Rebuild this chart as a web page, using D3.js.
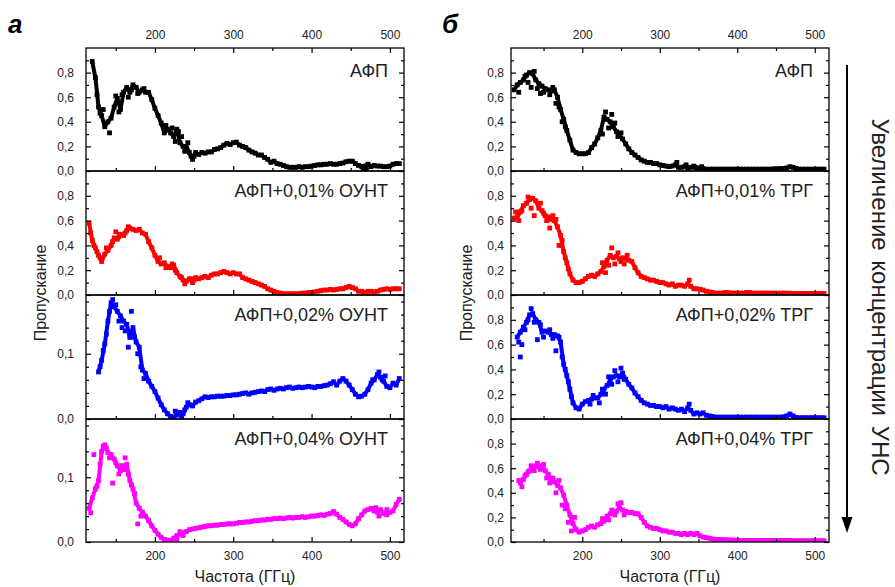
<!DOCTYPE html>
<html>
<head>
<meta charset="utf-8">
<script src="https://cdnjs.cloudflare.com/ajax/libs/d3/7.8.5/d3.min.js"></script>
<style>
  body { margin: 0; background: #fff; }
  svg { display: block; }
  text { font-family: "Liberation Sans", Arial, sans-serif; }
</style>
</head>
<body>
<script>
// frequency grid (GHz), shared by every curve
const freq = [112,116,120,124,128,132,136,140,144,148,
  152,156,160,164,168,172,176,180,184,188,
  192,196,200,204,208,212,216,220,224,228,
  232,236,240,244,248,252,256,260,264,268,
  272,276,280,284,288,292,296,300,304,308,
  312,316,320,324,328,332,336,340,344,348,
  352,356,360,364,368,372,376,380,384,388,
  392,396,400,404,408,412,416,420,424,428,
  432,436,440,444,448,452,456,460,464,468,
  472,476,480,484,488,492,496,500,504,508,
  512];

// panel а : АФП + ОУНТ
const ountAfp = [null,null,0.89,0.76,0.52,0.45,0.36,0.40,0.43,0.52,
  0.59,0.50,0.64,0.68,0.64,0.70,0.68,0.64,0.66,0.64,
  0.64,0.58,0.51,0.45,0.39,0.31,0.34,0.31,0.28,0.34,
  0.23,0.20,0.20,0.15,0.095,0.15,0.135,0.15,0.145,0.155,
  0.155,0.175,0.18,0.19,0.21,0.225,0.215,0.23,0.235,0.21,
  0.20,0.19,0.17,0.155,0.145,0.13,0.13,0.11,0.095,0.07,
  0.08,0.06,0.055,0.045,0.035,0.03,0.03,0.03,0.035,0.03,
  0.035,0.035,0.04,0.045,0.05,0.05,0.055,0.055,0.06,0.055,
  0.055,0.06,0.065,0.075,0.08,0.08,0.06,0.045,0.035,0.04,
  0.055,0.035,0.045,0.04,0.04,0.035,0.035,0.04,0.055,0.06,
  0.06];
const ount001 = [null,0.58,0.44,0.38,0.32,0.27,0.33,0.36,0.40,0.46,
  0.45,0.49,0.48,0.52,0.54,0.53,0.52,0.53,0.50,0.49,
  0.43,0.38,0.32,0.27,0.25,0.26,0.23,0.22,0.24,0.18,
  0.15,0.12,0.11,0.13,0.10,0.14,0.13,0.14,0.15,0.14,
  0.16,0.17,0.17,0.18,0.19,0.18,0.17,0.18,0.17,0.17,
  0.14,0.13,0.12,0.11,0.10,0.09,0.08,0.07,0.05,0.04,
  0.03,0.02,0.015,0.01,0.01,0.01,0.01,0.01,0.01,0.015,
  0.015,0.02,0.02,0.025,0.03,0.035,0.04,0.04,0.045,0.04,
  0.045,0.05,0.05,0.06,0.07,0.06,0.05,0.03,0.03,0.02,
  0.03,0.03,0.025,0.03,0.04,0.045,0.05,0.045,0.05,0.05,
  0.05];
const ount002 = [null,null,null,null,0.072,0.090,0.115,0.150,0.178,0.172,
  0.165,0.158,0.150,0.145,0.125,0.140,0.118,0.110,0.075,0.070,
  0.058,0.050,0.042,0.032,0.022,0.014,0.008,0.004,0.003,0.006,
  0.010,0.008,0.018,0.022,0.020,0.026,0.028,0.031,0.034,0.033,
  0.034,0.034,0.035,0.035,0.035,0.036,0.036,0.037,0.037,0.038,
  0.039,0.040,0.038,0.040,0.041,0.042,0.043,0.042,0.045,0.046,
  0.044,0.046,0.047,0.046,0.048,0.049,0.047,0.048,0.049,0.048,
  0.049,0.050,0.049,0.048,0.050,0.050,0.051,0.052,0.054,0.057,
  0.052,0.058,0.062,0.058,0.052,0.045,0.038,0.034,0.035,0.038,
  0.045,0.055,0.060,0.068,0.064,0.058,0.050,0.048,0.055,0.052,
  0.062];
const ount004 = [null,0.052,0.068,0.082,0.095,0.140,0.150,0.138,0.135,0.128,
  0.118,0.110,0.112,0.120,0.095,0.082,0.060,0.052,0.046,0.040,
  0.033,0.025,0.018,0.012,0.007,0.004,0.003,0.002,0.006,0.010,
  0.012,0.014,0.016,0.019,0.020,0.021,0.022,0.023,0.024,0.025,
  0.025,0.026,0.026,0.027,0.027,0.028,0.028,0.028,0.029,0.030,
  0.030,0.031,0.031,0.032,0.033,0.033,0.034,0.034,0.035,0.035,
  0.036,0.036,0.037,0.036,0.037,0.038,0.037,0.038,0.038,0.039,
  0.038,0.039,0.040,0.040,0.041,0.042,0.041,0.043,0.044,0.047,
  0.043,0.038,0.035,0.031,0.027,0.025,0.028,0.036,0.042,0.048,
  0.050,0.052,0.048,0.046,0.050,0.044,0.042,0.046,0.048,0.058,
  0.066];

// panel б : АФП + ТРГ
const trgAfp = [0.66,0.70,0.72,0.74,0.78,0.80,0.79,0.74,0.71,0.69,
  0.67,0.66,0.65,0.66,0.60,0.50,0.42,0.33,0.25,0.17,
  0.15,0.14,0.14,0.14,0.15,0.19,0.22,0.27,0.33,0.44,
  0.42,0.40,0.36,0.32,0.29,0.26,0.22,0.18,0.15,0.13,
  0.11,0.09,0.08,0.07,0.07,0.06,0.06,0.05,0.045,0.04,
  0.035,0.04,0.05,0.03,0.03,0.035,0.025,0.03,0.04,0.025,
  0.02,0.02,0.015,0.015,0.015,0.015,0.015,0.015,0.015,0.015,
  0.015,0.015,0.015,0.015,0.015,0.015,0.015,0.015,0.015,0.015,
  0.015,0.015,0.015,0.015,0.018,0.018,0.02,0.02,0.025,0.035,
  0.03,0.02,0.015,0.015,0.015,0.015,0.015,0.015,0.015,0.015,
  0.015];
const trg001 = [0.62,0.63,0.67,0.72,0.74,0.77,0.78,0.76,0.70,0.68,
  0.64,0.63,0.61,0.60,0.55,0.48,0.35,0.26,0.17,0.12,
  0.10,0.10,0.11,0.13,0.15,0.16,0.15,0.17,0.19,0.23,
  0.28,0.32,0.30,0.31,0.29,0.30,0.29,0.28,0.27,0.22,
  0.18,0.15,0.14,0.13,0.12,0.12,0.11,0.10,0.10,0.09,
  0.08,0.09,0.07,0.08,0.08,0.07,0.09,0.07,0.05,0.05,
  0.045,0.04,0.03,0.025,0.02,0.015,0.015,0.015,0.02,0.02,
  0.015,0.015,0.015,0.015,0.015,0.02,0.02,0.015,0.015,0.015,
  0.015,0.015,0.015,0.015,0.015,0.015,0.015,0.015,0.015,0.015,
  0.012,0.012,0.012,0.012,0.012,0.012,0.012,0.012,0.012,0.012,
  0.012];
const trg002 = [null,0.66,0.70,0.74,0.78,0.84,0.85,0.80,0.78,0.70,
  0.71,0.70,0.68,0.68,0.67,0.62,0.44,0.35,0.24,0.13,
  0.09,0.08,0.12,0.14,0.15,0.16,0.17,0.17,0.20,0.24,
  0.27,0.31,0.34,0.35,0.34,0.37,0.32,0.28,0.25,0.21,
  0.18,0.15,0.13,0.12,0.11,0.11,0.10,0.10,0.09,0.10,
  0.08,0.09,0.08,0.07,0.08,0.06,0.09,0.07,0.04,0.05,
  0.04,0.05,0.03,0.025,0.02,0.015,0.015,0.015,0.015,0.015,
  0.015,0.015,0.015,0.015,0.015,0.015,0.015,0.015,0.015,0.015,
  0.015,0.015,0.015,0.015,0.015,0.015,0.015,0.018,0.025,0.04,
  0.025,0.012,0.01,0.01,0.01,0.01,0.01,0.01,0.01,0.01,
  0.01];
const trg004 = [null,null,0.48,0.51,0.55,0.58,0.60,0.62,0.61,0.62,
  0.58,0.55,0.50,0.49,0.46,0.44,0.38,0.30,0.22,0.15,
  0.10,0.08,0.09,0.10,0.12,0.13,0.12,0.14,0.15,0.17,
  0.21,0.23,0.24,0.25,0.28,0.26,0.25,0.24,0.24,0.23,
  0.23,0.20,0.16,0.13,0.12,0.11,0.11,0.10,0.09,0.09,
  0.08,0.08,0.07,0.07,0.06,0.07,0.06,0.07,0.06,0.07,
  0.05,0.04,0.035,0.03,0.025,0.02,0.02,0.02,0.018,0.018,
  0.015,0.015,0.015,0.012,0.012,0.012,0.012,0.012,0.012,0.012,
  0.012,0.012,0.012,0.012,0.012,0.012,0.012,0.012,0.012,0.012,
  0.01,0.01,0.01,0.01,0.01,0.01,0.01,0.01,0.01,0.01,
  0.01];

// scattered points lying off the main trace, [GHz, value]
const ountAfpScatter = [[126,0.62],[130,0.47],[134,0.50],[142,0.31],[150,0.61],[154,0.48],[158,0.62],
  [166,0.60],[170,0.66],[178,0.63],[186,0.67],[214,0.37],[222,0.35],[226,0.24],[230,0.32],[234,0.28],
  [238,0.16],[242,0.23],[246,0.12],[250,0.12],[466,0.015],[470,0.02]];
const ount001Scatter = [[118,0.50],[122,0.40],[126,0.35],[130,0.30],[138,0.38],[146,0.43],[150,0.51],
  [154,0.47],[162,0.50],[166,0.55],[206,0.30],[214,0.22],[222,0.25],[226,0.20],[234,0.14],[238,0.09],
  [246,0.13],[250,0.12]];
const ount002Scatter = [[130,0.080],[134,0.105],[138,0.130],[142,0.165],[146,0.183],[150,0.175],[154,0.150],
  [158,0.140],[162,0.135],[166,0.110],[170,0.165],[174,0.125],[178,0.100],[182,0.080],[186,0.062],
  [226,0.012],[234,0.004],[238,0.014],[242,0.025],[478,0.060],[486,0.072],[490,0.060],[494,0.066]];
const ount004Scatter = [[118,0.045],[122,0.135],[126,0.086],[130,0.120],[134,0.148],[138,0.145],[142,0.130],
  [146,0.091],[150,0.122],[154,0.105],[158,0.118],[162,0.130],[166,0.105],[170,0.088],[174,0.075],
  [178,0.028],[182,0.040],[228,0.004],[232,0.016],[236,0.010],[482,0.053],[486,0.040],[496,0.050]];
const trgAfpScatter = [[118,0.64],[126,0.77],[130,0.72],[134,0.68],[138,0.81],[142,0.67],[146,0.63],
  [150,0.64],[158,0.62],[162,0.68],[166,0.55],[170,0.52],[174,0.40],[178,0.36],[226,0.30],[230,0.48],
  [234,0.35],[238,0.46],[242,0.39],[246,0.28],[250,0.31],[322,0.07],[334,0.05],[346,0.03],[354,0.035]];
const trg001Scatter = [[114,0.67],[118,0.60],[122,0.68],[130,0.79],[134,0.70],[138,0.64],[146,0.74],
  [150,0.66],[154,0.60],[158,0.54],[162,0.64],[166,0.61],[170,0.40],[174,0.44],[178,0.30],[182,0.21],
  [226,0.26],[230,0.18],[234,0.24],[238,0.38],[242,0.25],[246,0.34],[250,0.27],[254,0.25],[258,0.32],
  [338,0.12]];
const trg002Scatter = [[118,0.62],[120,0.50],[122,0.60],[126,0.72],[130,0.80],[134,0.89],[138,0.78],
  [142,0.64],[146,0.76],[150,0.66],[158,0.72],[162,0.65],[166,0.55],[170,0.66],[174,0.50],[178,0.40],
  [182,0.30],[186,0.18],[210,0.12],[214,0.19],[222,0.13],[226,0.24],[230,0.20],[234,0.34],[238,0.28],
  [242,0.39],[246,0.30],[250,0.41],[254,0.32],[338,0.12]];
const trg004Scatter = [[118,0.50],[122,0.45],[126,0.54],[130,0.57],[134,0.62],[138,0.58],[142,0.64],
  [146,0.59],[150,0.63],[154,0.52],[158,0.48],[162,0.52],[166,0.40],[170,0.50],[174,0.30],[178,0.27],
  [182,0.16],[186,0.09],[190,0.20],[226,0.19],[234,0.18],[238,0.26],[242,0.22],[246,0.31],[250,0.32],
  [254,0.22]];

const ountLabels = ['АФП', 'АФП+0,01% ОУНТ', 'АФП+0,02% ОУНТ', 'АФП+0,04% ОУНТ'];
const trgLabels = ['АФП', 'АФП+0,01% ТРГ', 'АФП+0,02% ТРГ', 'АФП+0,04% ТРГ'];
const xMajor = [200, 300, 400, 500];
const xMinor = [150, 250, 350, 450];
const yMajorFull = [0, 0.2, 0.4, 0.6, 0.8];
const yMinorFull = [0.1, 0.3, 0.5, 0.7, 0.9];
const yMajorSmall = [0, 0.1];
const yMinorSmall = [0.02, 0.04, 0.06, 0.08, 0.12, 0.14, 0.16, 0.18];

const colors = ['#000000', '#ff0000', '#0000ff', '#ff00ff'];
const rows = [48, 171, 295, 419, 542];
const fmt = d => d3.format('.1f')(d).replace('.', ',');

const columns = [
  {letter: 'а', lx: 8, x0: 86, x1: 404, dom: [112, 518], ymax: [1, 1, 0.19, 0.19], gap: 12,
   series: [ountAfp, ount001, ount002, ount004],
   scatter: [ountAfpScatter, ount001Scatter, ount002Scatter, ount004Scatter],
   labels: ountLabels, ytx: 46},
  {letter: 'б', lx: 442, x0: 511, x1: 829, dom: [108, 518.4], ymax: [1, 1, 1, 1], gap: 7,
   series: [trgAfp, trg001, trg002, trg004],
   scatter: [trgAfpScatter, trg001Scatter, trg002Scatter, trg004Scatter],
   labels: trgLabels, ytx: 472}
];

const svg = d3.select('body').append('svg')
  .attr('width', 895).attr('height', 587);

function styleAxis(g) {
  g.select('.domain').remove();
  g.selectAll('line').attr('stroke', '#000').attr('stroke-width', 1.2);
  g.selectAll('text').attr('font-size', '12px').attr('fill', '#222')
    .attr('font-family', '"Liberation Sans", Arial, sans-serif');
}

columns.forEach((col, ci) => {
  const x = d3.scaleLinear().domain(col.dom).range([col.x0, col.x1]);

  col.series.forEach((vals, i) => {
    const top = rows[i], bottom = rows[i + 1];
    const ymax = col.ymax[i];
    const y = d3.scaleLinear().domain([0, ymax]).range([bottom, top]);
    const full = ymax === 1;

    const clipId = `clip${ci}${i}`;
    svg.append('clipPath').attr('id', clipId).append('rect')
      .attr('x', col.x0).attr('y', top).attr('width', col.x1 - col.x0).attr('height', bottom - top);

    const trace = freq.map((f, k) => [f, vals[k]]);
    const layer = svg.append('g').attr('clip-path', `url(#${clipId})`);

    // dense band of the measured trace
    layer.append('path')
      .datum(trace)
      .attr('fill', 'none').attr('stroke', colors[i]).attr('stroke-width', 4)
      .attr('stroke-linejoin', 'round')
      .attr('d', d3.line().defined(d => d[1] != null).x(d => x(d[0])).y(d => y(d[1])));

    const pts = trace.filter(d => d[1] != null).concat(col.scatter[i]);
    layer.selectAll('rect').data(pts).join('rect')
      .attr('x', d => x(d[0]) - 2.4).attr('y', d => y(d[1]) - 2.4)
      .attr('width', 4.8).attr('height', 4.8)
      .attr('fill', colors[i]);

    // y axes
    svg.append('g').attr('transform', `translate(${col.x0},0)`)
      .call(d3.axisLeft(y).tickValues(full ? yMajorFull : yMajorSmall).tickSize(-5)
        .tickPadding(col.gap).tickFormat(fmt))
      .call(styleAxis);
    svg.append('g').attr('transform', `translate(${col.x0},0)`)
      .call(d3.axisLeft(y).tickValues(full ? yMinorFull : yMinorSmall).tickSize(-3).tickFormat(''))
      .call(styleAxis);
    svg.append('g').attr('transform', `translate(${col.x1},0)`)
      .call(d3.axisRight(y).tickValues(full ? yMajorFull : yMajorSmall).tickSize(-5).tickFormat(''))
      .call(styleAxis);
    svg.append('g').attr('transform', `translate(${col.x1},0)`)
      .call(d3.axisRight(y).tickValues(full ? yMinorFull : yMinorSmall).tickSize(-3).tickFormat(''))
      .call(styleAxis);

    // x ticks on the bottom edge of every panel
    const last = i === col.series.length - 1;
    svg.append('g').attr('transform', `translate(0,${bottom})`)
      .call(d3.axisBottom(x).tickValues(xMajor).tickSize(-5).tickPadding(9)
        .tickFormat(last ? d3.format('d') : ''))
      .call(styleAxis);
    svg.append('g').attr('transform', `translate(0,${bottom})`)
      .call(d3.axisBottom(x).tickValues(xMinor).tickSize(-3).tickFormat(''))
      .call(styleAxis);

    if (i === 0) {
      svg.append('g').attr('transform', `translate(0,${top})`)
        .call(d3.axisTop(x).tickValues(xMajor).tickSize(-5).tickPadding(9).tickFormat(d3.format('d')))
        .call(styleAxis);
      svg.append('g').attr('transform', `translate(0,${top})`)
        .call(d3.axisTop(x).tickValues(xMinor).tickSize(-3).tickFormat(''))
        .call(styleAxis);
    }

    svg.append('rect')
      .attr('x', col.x0).attr('y', top).attr('width', col.x1 - col.x0).attr('height', bottom - top)
      .attr('fill', 'none').attr('stroke', '#000').attr('stroke-width', 1.3);

    svg.append('text')
      .attr('x', col.x1 - 16).attr('y', top + (i === 0 ? 29 : 26))
      .attr('text-anchor', 'end').attr('font-size', '18px').attr('fill', '#222')
      .text(col.labels[i]);
  });

  svg.append('text')
    .attr('x', (col.x0 + col.x1) / 2).attr('y', 582)
    .attr('text-anchor', 'middle').attr('font-size', '16px').attr('fill', '#222')
    .text('Частота (ГГц)');

  svg.append('text')
    .attr('transform', `translate(${col.ytx},${(rows[0] + rows[4]) / 2 - 2}) rotate(-90)`)
    .attr('text-anchor', 'middle').attr('font-size', '16px').attr('fill', '#222')
    .text('Пропускание');

  svg.append('text')
    .attr('x', col.lx).attr('y', 33)
    .attr('font-size', '26px').attr('font-weight', 'bold').attr('font-style', 'italic')
    .text(col.letter);
});

// arrow on the right
svg.append('line')
  .attr('x1', 847).attr('x2', 847).attr('y1', 65).attr('y2', 520)
  .attr('stroke', '#000').attr('stroke-width', 2);
svg.append('path')
  .attr('d', 'M841.5,517 L852.5,517 L847,533 Z')
  .attr('fill', '#000');

svg.append('text')
  .attr('transform', 'translate(872,297) rotate(90)')
  .attr('text-anchor', 'middle').attr('font-size', '24px').attr('fill', '#222')
  .attr('word-spacing', '3px')
  .text('Увеличение концентрации УНС');
</script>
</body>
</html>
